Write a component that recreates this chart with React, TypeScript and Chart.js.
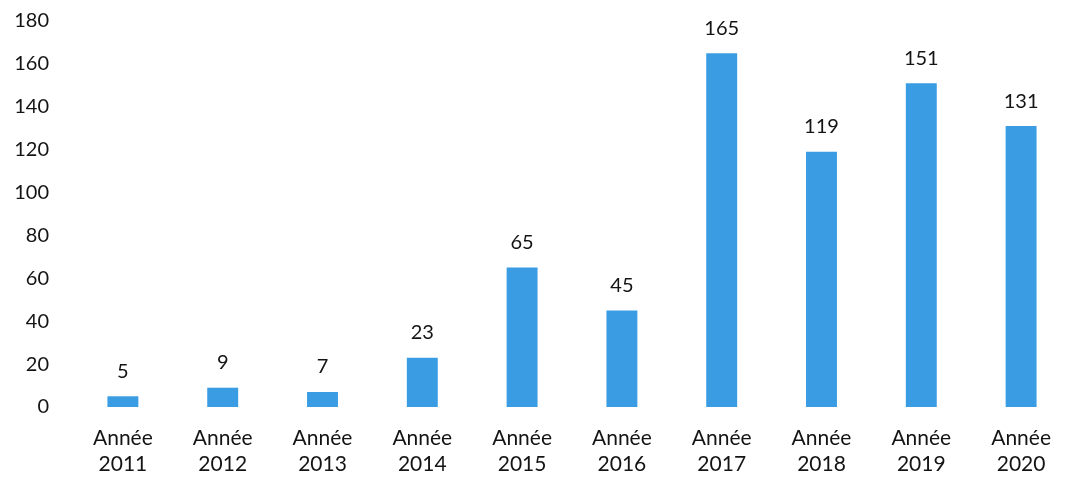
import React, { useEffect, useRef } from "react";
import { Chart, registerables } from "chart.js";

Chart.register(...registerables);

const years = ["2011", "2012", "2013", "2014", "2015", "2016", "2017", "2018", "2019", "2020"];
const categoryLabels = years.map((y) => ["Année", y]);
const counts = [5, 9, 7, 23, 65, 45, 165, 119, 151, 131];
const yTicks = [0, 20, 40, 60, 80, 100, 120, 140, 160, 180];

const FONT = "Lato, 'Open Sans', sans-serif";
const TEXT = "#141414";
const BAR = "#3a9de4";

// Writes each bar's value above its top edge.
const valueLabels = {
  id: "valueLabels",
  afterDatasetsDraw(chart: any) {
    const { ctx } = chart;
    const meta = chart.getDatasetMeta(0);
    const data = chart.data.datasets[0].data as number[];
    ctx.save();
    ctx.font = `20px ${FONT}`;
    ctx.fillStyle = TEXT;
    ctx.textAlign = "center";
    ctx.textBaseline = "middle";
    meta.data.forEach((bar: any, i: number) => {
      ctx.fillText(String(data[i]), bar.x, bar.y - 25);
    });
    ctx.restore();
  },
};

export default function App() {
  const canvasRef = useRef<HTMLCanvasElement | null>(null);

  useEffect(() => {
    const canvas = canvasRef.current;
    if (!canvas) return;
    const chart = new Chart(canvas, {
      type: "bar",
      data: {
        labels: categoryLabels,
        datasets: [
          {
            data: counts,
            backgroundColor: BAR,
            borderWidth: 0,
            barPercentage: 0.31,
            categoryPercentage: 1,
          },
        ],
      },
      options: {
        animation: false,
        responsive: false,
        maintainAspectRatio: false,
        layout: { padding: { left: 0, right: -14, top: 21, bottom: 0 } },
        plugins: {
          legend: { display: false },
          tooltip: { enabled: false },
        },
        scales: {
          x: {
            offset: true,
            grid: { display: false, drawTicks: false },
            border: { display: false },
            ticks: {
              color: TEXT,
              font: { family: FONT, size: 21, lineHeight: 1.25 },
              padding: 18,
              maxRotation: 0,
              autoSkip: false,
            },
            afterFit: (s: any) => {
              s.height = 72;
            },
          },
          y: {
            min: 0,
            max: 180,
            grid: { display: false, drawTicks: false },
            border: { display: false },
            afterBuildTicks: (s: any) => {
              s.ticks = yTicks.map((v) => ({ value: v }));
            },
            ticks: {
              color: TEXT,
              font: { family: FONT, size: 20 },
              padding: 24,
            },
            afterFit: (s: any) => {
              s.width = 73;
              s.paddingTop = 12;
              s.paddingBottom = 12;
            },
          },
        },
      },
      plugins: [valueLabels],
    });
    return () => chart.destroy();
  }, []);

  return (
    <div style={{ position: "fixed", left: 0, top: 0, width: 1071, height: 479, background: "#fff" }}>
      <canvas ref={canvasRef} width={1071} height={479} style={{ display: "block" }} />
    </div>
  );
}
